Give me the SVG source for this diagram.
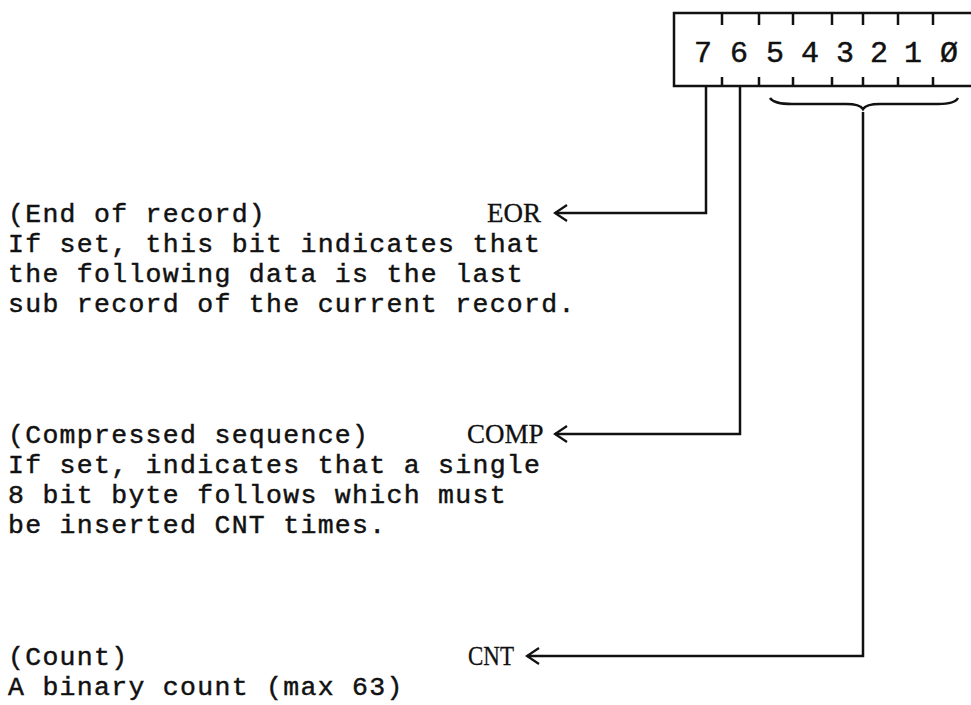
<svg xmlns="http://www.w3.org/2000/svg" width="971" height="705" viewBox="0 0 971 705">
<defs>
<style>
.t{font-family:"Liberation Mono","DejaVu Sans Mono",monospace;font-size:26.5px;letter-spacing:1.3px;fill:#111;stroke:#111;stroke-width:0.45}
.d{font-family:"Liberation Mono","DejaVu Sans Mono",monospace;font-size:30px;fill:#111;stroke:#111;stroke-width:0.45;text-anchor:middle}
.lbl{font-family:"Liberation Serif","DejaVu Serif",serif;font-size:27px;fill:#111;stroke:#111;stroke-width:0.3}
.ln{fill:none;stroke:#111;stroke-width:2.5;stroke-linejoin:miter}
</style>
<marker id="ah" markerWidth="18" markerHeight="20" refX="14" refY="10" orient="auto" markerUnits="userSpaceOnUse">
<path d="M2,2 L14,10 L2,18" fill="none" stroke="#111" stroke-width="2.2"/>
</marker>
</defs>
<rect width="971" height="705" fill="#fff"/>
<g id="register">
<path class="ln" d="M980,13 L674,13 L674,86 L980,86"/>
<path class="ln" d="M722,13v12 M759,13v12 M793,13v12 M832,13v12 M863,13v12 M898,13v12 M933,13v12"/>
<path class="ln" d="M722,86v-9 M759,86v-9 M793,86v-9 M832,86v-9 M863,86v-9 M898,86v-9 M933,86v-9"/>
<text class="d" x="703" y="62">7</text>
<text class="d" x="739" y="62">6</text>
<text class="d" x="775" y="62">5</text>
<text class="d" x="810" y="62">4</text>
<text class="d" x="845" y="62">3</text>
<text class="d" x="879" y="62">2</text>
<text class="d" x="913" y="62">1</text>
<text class="d" x="949" y="62">Ø</text>
<path class="ln" d="M770,98 Q774,104 792,104 L846,104 Q860,104 863,109 Q866,104 880,104 L938,104 Q955,104 958,98"/>
</g>
<g id="eor">
<text class="t" x="8" y="222">(End of record)</text>
<text class="lbl" x="487" y="222">EOR</text>
<text class="t" x="8" y="252">If set, this bit indicates that</text>
<text class="t" x="8" y="282">the following data is the last</text>
<text class="t" x="8" y="312">sub record of the current record.</text>
</g>
<g id="comp">
<text class="t" x="8" y="443">(Compressed sequence)</text>
<text class="lbl" x="467" y="443">COMP</text>
<text class="t" x="8" y="473">If set, indicates that a single</text>
<text class="t" x="8" y="503">8 bit byte follows which must</text>
<text class="t" x="8" y="533">be inserted CNT times.</text>
</g>
<g id="cnt">
<text class="t" x="8" y="665">(Count)</text>
<text class="lbl" x="468" y="665" textLength="46" lengthAdjust="spacingAndGlyphs">CNT</text>
<text class="t" x="8" y="695">A binary count (max 63)</text>
</g>
<g id="connectors">
<path class="ln" d="M706,86 L706,213 L555,213" marker-end="url(#ah)"/>
<path class="ln" d="M740,86 L740,434 L555,434" marker-end="url(#ah)"/>
<path class="ln" d="M863,112 L863,656 L527,656" marker-end="url(#ah)"/>
</g>
</svg>
